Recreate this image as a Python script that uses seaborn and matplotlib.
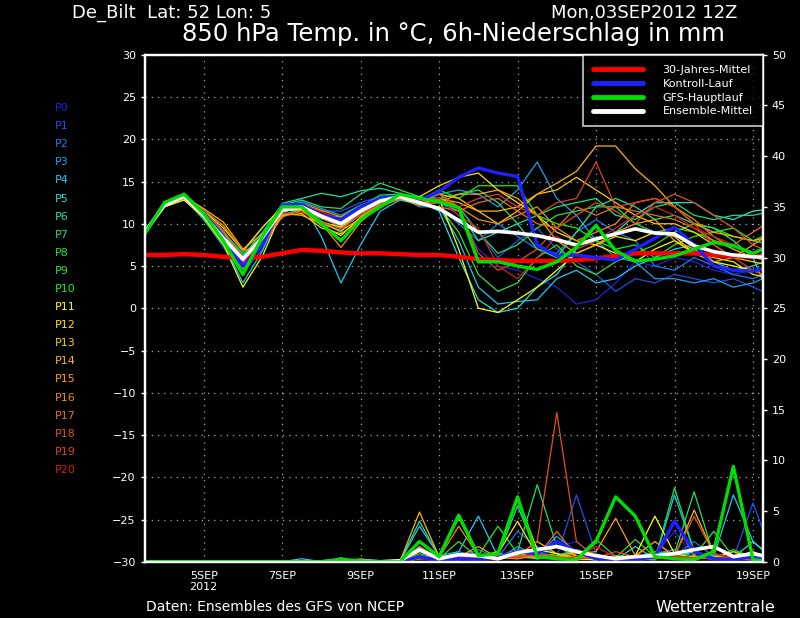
import pandas as pd
import matplotlib.pyplot as plt
from matplotlib.lines import Line2D
import seaborn as sns

sns.set_style("dark", {"axes.facecolor": "black", "figure.facecolor": "black"})
plt.rcParams["font.family"] = ["DejaVu Sans"]

# time axis: days after 03SEP2012 12Z, 12-hourly
days = [0, 0.5, 1, 1.5, 2, 2.5, 3, 3.5, 4, 4.5, 5, 5.5, 6, 6.5, 7, 7.5, 8,
        8.5, 9, 9.5, 10, 10.5, 11, 11.5, 12, 12.5, 13, 13.5, 14, 14.5, 15, 15.5, 16]
tick_days = [1.5, 3.5, 5.5, 7.5, 9.5, 11.5, 13.5, 15.5]
tick_labels = ["5SEP\n2012", "7SEP", "9SEP", "11SEP", "13SEP", "15SEP", "17SEP", "19SEP"]

# 850 hPa temperature (°C)
clim_temp = [6.3, 6.3, 6.4, 6.3, 6.1, 5.9, 6.1, 6.5, 6.9, 6.8, 6.6, 6.5, 6.5, 6.4, 6.3,
             6.3, 6.1, 5.8, 5.7, 5.6, 5.6, 5.6, 5.7, 5.9, 6.2, 6.5, 6.5, 6.5, 6.5, 6.3, 6.2, 6.1, 6.1]
ctrl_temp = [9.0, 12.3, 13.2, 11.3, 8.5, 5.0, 7.5, 12.2, 12.3, 11.0, 10.5, 12.0, 13.0, 13.3, 12.8,
             13.8, 15.5, 16.6, 16.0, 15.6, 7.5, 6.2, 6.3, 6.0, 5.7, 7.0, 8.3, 9.6, 7.5, 5.0, 4.5, 4.4, 4.9]
main_temp = [8.8, 12.5, 13.5, 11.2, 8.0, 4.0, 8.5, 12.0, 12.0, 10.0, 8.0, 10.5, 12.0, 13.5, 13.0,
             12.6, 11.9, 5.5, 5.5, 5.0, 4.6, 5.5, 7.2, 9.8, 6.8, 5.6, 5.8, 6.2, 7.0, 7.8, 7.4, 6.5, 7.5]
mean_temp = [9.0, 12.2, 13.2, 11.0, 8.3, 5.8, 8.4, 11.6, 12.0, 10.9, 10.0, 11.5, 12.7, 13.2, 12.5,
             11.8, 10.4, 9.0, 9.1, 8.9, 8.6, 8.1, 7.5, 8.2, 8.8, 9.4, 8.9, 8.8, 7.4, 6.7, 6.3, 6.1, 6.0]

member_temp = [
    [9.0, 12.0, 13.0, 11.2, 8.0, 5.0, 8.0, 11.8, 12.3, 11.2, 10.6, 11.8, 12.9, 13.0, 12.4,
     12.5, 11, 7, 5, 4.5, 3.5, 2.5, 0.5, 1.0, 3.0, 5.5, 5.0, 6.0, 5.5, 4.5, 4.0, 4.5, 5.0],
    [8.8, 12.4, 13.3, 10.6, 7.2, 4.2, 7.0, 11.2, 12.2, 11.5, 11.5, 12.5, 13.2, 13.5, 13.0,
     13, 12, 9, 6, 8, 9.5, 7, 5.5, 4, 2.0, 3.5, 3.0, 4.0, 3.5, 3.0, 3.5, 2.5, 1.5],
    [9.1, 12.1, 13.1, 11.4, 9.0, 6.6, 9.5, 12.0, 12.2, 10.8, 9.5, 11.0, 12.5, 13.2, 12.0,
     12, 10, 8, 10, 8.5, 7, 6.5, 9, 10.5, 9, 8, 5, 4.5, 6, 5, 4, 3.5, 4.5],
    [9.0, 12.3, 13.3, 11.1, 8.3, 5.6, 8.6, 11.9, 12.6, 11.8, 11.0, 12.2, 13.0, 13.3, 12.8,
     13.5, 14, 13.5, 12, 14, 17.3, 13, 11, 8, 6, 5.5, 3.5, 3.5, 3, 3.5, 2.5, 3.0, 4.0],
    [8.9, 12.0, 12.9, 11.3, 7.8, 3.0, 6.8, 12.0, 12.5, 8.5, 3.0, 7.5, 11.5, 12.8, 12.3,
     12, 8, 2.5, 0.5, 0.8, 1.0, 3.5, 4.5, 3.0, 3.5, 5, 6, 7, 7.5, 5.5, 4.5, 5, 6],
    [9.0, 12.3, 13.2, 11.0, 8.8, 6.0, 8.2, 11.0, 11.8, 10.3, 9.0, 11.8, 13.0, 13.4, 12.6,
     11.5, 6, 1.0, -0.5, 0.0, 2.5, 4.0, 7.0, 8.0, 9.0, 11, 12.5, 12.5, 12.5, 11, 10.5, 11.5, 11.8],
    [9.2, 12.4, 13.4, 10.8, 8.0, 5.3, 8.8, 12.4, 13.0, 13.6, 13.2, 13.9, 14.2, 13.6, 12.9,
     12.5, 11.5, 8, 9, 10, 7, 6, 9, 12, 13, 12, 10.5, 11, 10, 9.5, 8, 6, 0.5],
    [9.0, 12.2, 13.3, 11.0, 8.5, 6.2, 9.0, 12.2, 12.8, 12.0, 11.8, 13.5, 14.8, 14.0, 13.2,
     13, 13.5, 14, 12.5, 10, 11, 12, 12.5, 13, 11, 10.5, 12, 12.5, 11, 10.5, 11, 11, 11.5],
    [9.1, 12.5, 13.5, 11.6, 8.6, 5.9, 8.0, 11.0, 11.6, 10.6, 10.4, 12.0, 13.4, 13.5, 13.0,
     13.5, 12, 9, 6.5, 7.5, 9.5, 11, 11.5, 12, 12, 10, 9, 9.5, 9, 8, 7, 6, 7],
    [8.9, 12.1, 13.0, 10.5, 7.5, 4.6, 7.8, 11.4, 12.0, 11.0, 10.8, 12.2, 13.0, 13.2, 12.2,
     12, 9, 4, 2, 3, 6, 7.5, 5, 4, 5.5, 6.5, 7.5, 9, 10, 9.5, 8.5, 8.0, 7.5],
    [9.0, 12.3, 13.4, 11.2, 8.9, 6.4, 8.5, 11.6, 12.1, 10.8, 10.2, 11.6, 12.9, 13.4, 12.8,
     14, 13, 14.5, 14.5, 14.5, 11, 10, 9.5, 8, 7, 7.5, 6, 7.5, 8.5, 9, 9.5, 8, 9],
    [9.1, 12.0, 12.8, 10.8, 7.6, 2.5, 6.2, 11.5, 11.7, 10.2, 9.6, 11.3, 12.6, 13.0, 12.2,
     13, 7, 0.0, -0.5, 1, 2.5, 4.5, 6.5, 7.5, 6.5, 5.5, 7, 8, 6.5, 5.5, 5, 4.5, 3.5],
    [9.0, 12.2, 13.1, 11.5, 9.5, 6.8, 9.6, 12.0, 11.6, 9.8, 8.6, 10.8, 12.4, 13.4, 13.2,
     14.5, 15.5, 16, 14, 12.5, 11.0, 9, 8, 7.5, 8.5, 8, 9, 8.5, 6.5, 6.0, 5.5, 4, 3.5],
    [8.9, 12.1, 13.0, 11.0, 8.1, 5.2, 7.6, 11.0, 11.2, 9.5, 8.8, 10.4, 12.0, 13.0, 12.6,
     13.5, 13, 11.5, 10, 11.5, 13.5, 14, 15.5, 14, 12.5, 11, 10, 10, 9, 7.5, 6, 5.5, 5],
    [9.0, 12.2, 13.2, 11.8, 10.2, 7.0, 8.8, 11.2, 11.0, 10.0, 9.2, 10.6, 12.2, 13.1, 12.4,
     13, 12.5, 11.5, 11.5, 12, 13.5, 14.8, 16.2, 19.2, 19.2, 16.5, 14.5, 12, 10, 9, 8.5, 8, 8.5],
    [9.1, 12.3, 13.3, 11.2, 8.7, 5.7, 8.2, 11.8, 12.4, 11.6, 10.8, 11.9, 12.8, 13.0, 12.3,
     12.5, 13.5, 13.5, 14, 13, 11, 8, 6.5, 7.5, 9, 10, 10.5, 8, 7, 5.5, 6, 7.5, 9],
    [9.0, 12.1, 13.0, 11.6, 9.8, 6.8, 7.5, 10.8, 11.6, 10.0, 7.2, 10.2, 12.2, 12.9, 12.6,
     13, 12, 10.5, 10, 11, 12, 9.5, 8.0, 9.0, 10, 12.5, 13, 12, 10.5, 8.5, 7, 6, 5.5],
    [9.0, 12.4, 13.2, 11.4, 9.2, 6.0, 8.2, 11.6, 12.0, 10.6, 9.8, 11.2, 12.6, 13.2, 12.2,
     12, 11.5, 12.5, 13, 11.5, 10, 9.5, 12, 11, 12, 11.5, 11, 10.5, 9.5, 8, 7.5, 9, 10.5],
    [8.9, 12.2, 13.1, 11.0, 8.4, 5.4, 8.0, 11.2, 11.4, 10.2, 9.4, 11.0, 12.4, 13.0, 12.7,
     13.5, 12, 6.5, 4.5, 5.5, 7, 9.5, 11, 12.5, 11.5, 10, 12.5, 13.5, 12.5, 11, 9.5, 7.5, 6.5],
    [9.0, 12.3, 13.4, 11.3, 8.8, 4.8, 7.4, 11.6, 12.2, 11.0, 9.9, 11.4, 12.8, 13.3, 12.4,
     12.5, 12, 13, 13.5, 12, 11, 12.5, 13, 17.3, 12, 12.5, 13, 12, 10, 7.5, 6, 4.5, 3.5],
    [9.1, 12.1, 13.0, 10.9, 8.2, 5.5, 8.4, 11.8, 12.3, 11.4, 10.5, 11.7, 12.7, 13.1, 12.6,
     13, 11, 9.5, 5, 3.5, 6, 8.5, 7, 8.0, 9.5, 11, 12, 11, 9.5, 8.5, 7.5, 6.5, 6.0],
]

# 6h precipitation (mm)
ctrl_prec = [0, 0, 0, 0, 0, 0, 0, 0, 0, 0, 0, 0, 0, 0,
             0.5, 0.1, 0.3, 0.2, 0.4, 1.0, 0.8, 2.0, 1.0, 0.3, 0.1, 0.2, 0.5, 4.0, 1.0, 0.3, 0.2, 0.5, 0.3]
main_prec = [0, 0, 0, 0, 0, 0, 0, 0, 0, 0, 0.2, 0.1, 0, 0,
             2.0, 0.5, 4.6, 0.6, 0.8, 6.4, 0.5, 0.3, 0.2, 2.0, 6.4, 4.5, 0.5, 0.3, 0.2, 1.0, 9.4, 0.2, 0.0]
mean_prec = [0, 0, 0, 0, 0, 0, 0, 0, 0, 0, 0.1, 0.1, 0, 0.1,
             1.2, 0.3, 0.7, 0.6, 0.3, 0.9, 1.2, 1.5, 1.0, 0.6, 0.3, 0.5, 0.6, 0.8, 1.2, 1.5, 0.5, 0.8, 0.4]

member_prec = [
    [0, 0, 0, 0, 0, 0, 0, 0, 0, 0, 0, 0, 0, 0,
     0.3, 0, 0.2, 0.5, 0.3, 0.8, 0.5, 1.5, 2.0, 0.4, 0.2, 0.3, 0.6, 3.0, 0.5, 0.2, 0.3, 0.1, 0],
    [0, 0, 0, 0, 0, 0, 0, 0, 0, 0, 0, 0, 0, 0,
     0.5, 0.2, 0.4, 0.3, 0.6, 1.2, 1.0, 0.5, 6.6, 0.8, 0.2, 0.1, 0.3, 0.5, 1.0, 0.4, 0.3, 5.8, 0.5],
    [0, 0, 0, 0, 0, 0, 0, 0, 0, 0, 0, 0, 0, 0,
     1.0, 0.3, 0.5, 1.2, 0.4, 3.0, 1.5, 0.8, 0.4, 0.3, 0.6, 0.2, 0.4, 0.6, 2.0, 0.5, 0.3, 0.4, 0.2],
    [0, 0, 0, 0, 0, 0, 0, 0, 0, 0, 0, 0, 0, 0,
     0.4, 0.2, 1.0, 0.5, 0.2, 1.5, 0.6, 2.5, 1.0, 0.3, 0.2, 0.4, 0.8, 1.2, 0.5, 0.3, 1.0, 0.4, 0.1],
    [0, 0, 0, 0, 0, 0, 0, 0, 0.3, 0, 0, 0, 0, 0,
     3.5, 0.6, 1.0, 4.5, 0.5, 0.8, 0.3, 0.5, 0.4, 0.2, 0.6, 0.3, 0.2, 6.6, 1.0, 0.5, 6.6, 2.0, 0.4],
    [0, 0, 0, 0, 0, 0, 0, 0, 0, 0, 0, 0, 0, 0,
     1.5, 0.3, 0.2, 0.4, 0.8, 0.5, 0.3, 0.6, 1.2, 0.4, 0.2, 1.5, 0.3, 0.5, 0.2, 0.6, 0.4, 2.0, 0.3],
    [0, 0, 0, 0, 0, 0, 0, 0, 0, 0, 0, 0, 0, 0,
     4.0, 0.5, 0.8, 0.3, 0.6, 5.5, 0.8, 0.5, 0.3, 0.2, 0.5, 0.3, 0.6, 0.4, 1.0, 0.5, 0.3, 0.6, 0.2],
    [0, 0, 0, 0, 0, 0, 0, 0, 0, 0, 0, 0, 0, 0,
     0.6, 0.2, 0.3, 0.5, 0.4, 1.0, 7.6, 1.5, 0.5, 0.3, 0.2, 0.4, 1.0, 0.8, 6.9, 0.6, 0.3, 0.5, 0.2],
    [0, 0, 0, 0, 0, 0, 0, 0, 0, 0, 0.4, 0, 0, 0,
     0.8, 0.3, 0.5, 0.2, 0.3, 0.8, 0.5, 0.6, 0.4, 2.2, 0.5, 0.3, 0.2, 7.3, 1.0, 0.4, 0.6, 0.3, 0.1],
    [0, 0, 0, 0, 0, 0, 0, 0, 0, 0, 0, 0, 0, 0,
     0.5, 0.3, 2.0, 0.4, 0.3, 0.6, 0.5, 0.8, 0.3, 0.2, 0.4, 2.2, 0.5, 0.3, 0.6, 3.0, 0.5, 0.2, 0.1],
    [0, 0, 0, 0, 0, 0, 0, 0, 0, 0, 0, 0, 0, 0,
     0.3, 0.5, 0.4, 0.6, 3.5, 0.8, 0.3, 0.5, 1.0, 0.4, 0.2, 0.3, 0.5, 0.8, 0.4, 0.3, 1.2, 0.4, 0.2],
    [0, 0, 0, 0, 0, 0, 0, 0, 0, 0, 0, 0, 0, 0,
     0.4, 0.2, 0.3, 0.5, 1.0, 6.3, 1.2, 0.8, 0.3, 0.2, 0.5, 0.6, 4.5, 0.8, 0.4, 0.3, 0.5, 1.0, 0.2],
    [0, 0, 0, 0, 0, 0, 0, 0, 0, 0, 0, 0, 0, 0,
     0.5, 0.3, 0.4, 0.2, 0.8, 4.0, 0.6, 2.0, 0.5, 0.3, 0.2, 0.4, 0.6, 0.3, 0.5, 0.4, 0.2, 0.3, 0.1],
    [0, 0, 0, 0, 0, 0, 0, 0, 0, 0, 0, 0, 0, 0,
     0.3, 0.4, 0.6, 0.3, 0.2, 0.6, 2.0, 0.8, 0.4, 0.5, 0.3, 0.6, 2.0, 0.5, 0.3, 0.4, 1.0, 0.3, 0.2],
    [0, 0, 0, 0, 0, 0, 0, 0, 0, 0, 0, 0, 0, 0,
     4.9, 0.5, 4.3, 0.6, 0.3, 0.8, 0.4, 0.5, 1.0, 0.3, 0.2, 0.4, 0.6, 0.5, 5.1, 0.8, 0.3, 0.2, 0.1],
    [0, 0, 0, 0, 0, 0, 0, 0, 0, 0, 0, 0, 0, 0,
     0.6, 0.3, 0.5, 1.5, 0.4, 0.3, 0.6, 0.4, 0.8, 1.0, 4.3, 0.6, 0.3, 0.5, 0.4, 0.8, 0.3, 0.5, 0.2],
    [0, 0, 0, 0, 0, 0, 0, 0, 0, 0, 0, 0, 0, 0,
     1.0, 0.4, 3.5, 0.6, 0.5, 0.3, 0.8, 0.5, 0.3, 0.6, 0.4, 0.5, 0.8, 4.0, 0.6, 0.3, 0.5, 0.4, 0.2],
    [0, 0, 0, 0, 0, 0, 0, 0, 0, 0, 0, 0.3, 0, 0,
     1.5, 0.3, 0.5, 0.4, 0.6, 0.8, 0.5, 3.0, 0.6, 0.3, 0.2, 0.5, 2.0, 0.6, 0.4, 0.8, 0.3, 0.5, 0.2],
    [0, 0, 0, 0, 0, 0, 0, 0, 0, 0, 0, 0, 0, 0,
     0.5, 0.3, 0.6, 0.4, 0.3, 0.5, 2.0, 14.7, 2.0, 0.4, 0.3, 0.5, 0.4, 0.6, 4.5, 0.8, 0.3, 0.4, 0.2],
    [0, 0, 0, 0, 0, 0, 0, 0, 0, 0, 0, 0, 0, 0,
     0.3, 0.5, 0.4, 0.3, 0.6, 0.4, 0.8, 0.5, 0.3, 0.4, 1.0, 0.5, 0.3, 0.6, 0.4, 0.3, 0.5, 0.2, 0.1],
    [0, 0, 0, 0, 0, 0, 0, 0, 0, 0, 0, 0, 0, 0,
     0.4, 0.2, 0.5, 0.3, 0.4, 1.0, 0.6, 0.3, 0.5, 1.5, 0.4, 0.3, 0.6, 0.5, 0.3, 0.8, 0.4, 0.3, 0.2],
]

member_names = ["P%d" % i for i in range(21)]
member_colors = ["#2222e0", "#1e50f0", "#1e78f0", "#1ea0f0", "#1ec8f0", "#1ee0e0", "#1ee0a0",
                 "#1ee070", "#1ee050", "#30e030", "#10f010", "#ffff00", "#ffe000", "#ffc800",
                 "#ffb400", "#ffa000", "#f08c10", "#e87020", "#e05020", "#e04020", "#d02020"]

rows = []
for name, temps, precs in zip(member_names, member_temp, member_prec):
    for d, t, p in zip(days, temps, precs):
        rows.append((name, d, t, p))
members = pd.DataFrame(rows, columns=["member", "day", "temp", "prec"])
palette = dict(zip(member_names, member_colors))

fig = plt.figure(figsize=(8, 6.18), dpi=100, facecolor="black")
ax = fig.add_axes([0.181, 0.091, 0.7725, 0.8204])
ax.set_facecolor("black")

# temperature
sns.lineplot(data=members, x="day", y="temp", hue="member", palette=palette,
             errorbar=None, lw=0.9, legend=False, ax=ax)
sns.lineplot(x=days, y=clim_temp, color="#ff0000", lw=3.2, ax=ax)
sns.lineplot(x=days, y=ctrl_temp, color="#2020ff", lw=2.4, ax=ax)
sns.lineplot(x=days, y=mean_temp, color="white", lw=2.6, ax=ax)
sns.lineplot(x=days, y=main_temp, color="#00dd00", lw=2.4, ax=ax)

ax.set_xlim(0, 15.75)
ax.set_ylim(-30, 30)
ax.set_yticks(range(-30, 31, 5))
ax.set_xticks(tick_days)
ax.set_xticklabels(tick_labels)
ax.set_xlabel("")
ax.set_ylabel("")
ax.grid(True, color="#a8a8a8", linestyle=(0, (1, 4)), lw=0.9)
ax.tick_params(colors="white", labelsize=8, length=3, width=1, direction="out")
for sp in ax.spines.values():
    sp.set_color("white")
    sp.set_linewidth(1.6)

# precipitation on right axis
ax2 = ax.twinx()
sns.lineplot(data=members, x="day", y="prec", hue="member", palette=palette,
             errorbar=None, lw=0.9, legend=False, ax=ax2)
sns.lineplot(x=days, y=ctrl_prec, color="#2020ff", lw=2.4, ax=ax2)
sns.lineplot(x=days, y=mean_prec, color="white", lw=2.6, ax=ax2)
sns.lineplot(x=days, y=main_prec, color="#00dd00", lw=2.4, ax=ax2)
ax2.set_ylim(0, 50)
ax2.set_yticks(range(0, 51, 5))
ax2.set_ylabel("")
ax2.grid(False)
ax2.tick_params(colors="white", labelsize=8, length=3, width=1, direction="out")
for sp in ax2.spines.values():
    sp.set_color("white")
    sp.set_linewidth(1.6)

handles = [Line2D([], [], color="#ff0000", lw=3.5),
           Line2D([], [], color="#2020ff", lw=3.5),
           Line2D([], [], color="#00dd00", lw=3.5),
           Line2D([], [], color="white", lw=3.5)]
labels = ["30-Jahres-Mittel", "Kontroll-Lauf", "GFS-Hauptlauf", "Ensemble-Mittel"]
leg = ax2.legend(handles, labels, loc="upper right", borderaxespad=0, fontsize=8,
                 frameon=True, fancybox=False, facecolor="black", edgecolor="white",
                 labelcolor="white", handlelength=4.5, handletextpad=1.8,
                 borderpad=0.9, labelspacing=0.35)
leg.get_frame().set_linewidth(1.2)

# member labels on the left
for i, (name, col) in enumerate(zip(member_names, member_colors)):
    fig.text(55 / 800, 1 - (108 + 18.1 * i) / 618, name, color=col, fontsize=8, va="center")

fig.text(72 / 800, 1 - 13 / 618, "De_Bilt  Lat: 52 Lon: 5", color="white", fontsize=13, va="center")
fig.text(737 / 800, 1 - 13 / 618, "Mon,03SEP2012 12Z", color="white", fontsize=13,
         va="center", ha="right")
fig.text(453 / 800, 1 - 34 / 618, "850 hPa Temp. in °C, 6h-Niederschlag in mm", color="white",
         fontsize=17.5, va="center", ha="center")
fig.text(146 / 800, 1 - 607 / 618, "Daten: Ensembles des GFS von NCEP", color="white",
         fontsize=10, va="center")
fig.text(775 / 800, 1 - 607 / 618, "Wetterzentrale", color="white", fontsize=11.5,
         va="center", ha="right")

fig.savefig("out.png", dpi=100, facecolor="black")
